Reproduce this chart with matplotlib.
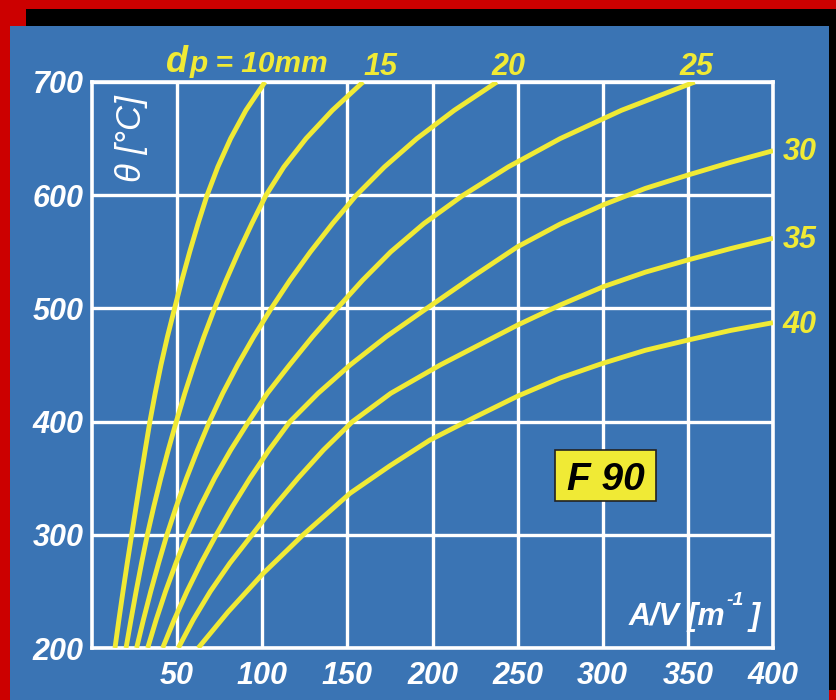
import matplotlib
matplotlib.use('Agg')
import matplotlib.pyplot as plt
from matplotlib.patches import Rectangle

plt.rcParams['font.family'] = ['Liberation Sans', 'DejaVu Sans']

W, H = 836, 700
BLUE = '#3a74b4'
YELLOW = '#f0ea35'
RED = '#cc0000'

# ---------------- data ----------------
x_ticks = [50, 100, 150, 200, 250, 300, 350, 400]
y_ticks = [200, 300, 400, 500, 600, 700]

curve_names = ['10', '15', '20', '25', '30', '35', '40']

c10_y = [200, 225, 250, 275, 300, 325, 350, 375, 400, 425, 450, 475, 500,
         525, 550, 575, 600, 625, 650, 675, 700]
c10_x = [13.5, 15.8, 18.2, 20.7, 23.3, 25.9, 28.55, 31.25, 34, 37.1, 40.5,
         44.3, 48.5, 52.8, 57.4, 62.3, 67.6, 73.9, 81.4, 90.4, 101.6]

c15_y = [200, 225, 250, 275, 300, 325, 350, 375, 400, 425, 450, 475, 500,
         525, 550, 575, 600, 625, 650, 675, 700]
c15_x = [20, 22.9, 25.9, 29.1, 32.5, 36.3, 40.4, 44.8, 49.5, 54.5, 59.9,
         65.7, 72, 78.8, 86.1, 93.9, 102.2, 112.7, 125.7, 141.2, 159.2]

c20_y = [200, 225, 250, 275, 300, 325, 350, 375, 400, 425, 450, 475, 500,
         525, 550, 575, 600, 625, 650, 675, 700]
c20_x = [26.2, 30.2, 34.5, 39.1, 44, 49.5, 55.5, 62, 69, 76.8, 85.5,
         95, 105.3, 116.3, 128.3, 141.3, 155.3, 171.8, 190.8, 212.8, 237.8]

c25_y = [200, 225, 250, 275, 300, 325, 350, 375, 400, 425, 450, 475, 500,
         525, 550, 575, 600, 625, 650, 675, 700]
c25_x = [32.7, 37.7, 43.2, 49.3, 56, 63.6, 72, 81.5, 92, 103, 116,
         129.5, 144, 159, 175.5, 195, 218, 244.5, 275, 311, 354]

c30_x = [41.5, 48.3, 55.8, 64, 73, 82.5, 92.8, 104, 116.3, 132.8, 151.6,
         172.8, 196.6, 225, 250, 275, 300, 325, 350, 375, 400]
c30_y = [200, 225, 250, 275, 300, 325, 350, 375, 400, 425, 450,
         475, 500, 529.5, 554.5, 574.5, 591.3, 606, 617.8, 629, 639.3]

c35_x = [50.7, 59.5, 69.5, 81, 94, 107, 121, 136, 153, 175.5, 204.5,
         250, 275, 300, 325, 350, 375, 400]
c35_y = [200, 225, 250, 275, 300, 325, 350, 375, 400, 425, 450,
         485.3, 503, 519, 532, 542.8, 552.8, 562]

c40_x = [62.4, 80, 100.6, 124, 151.5, 175, 198.5, 225, 250, 275, 300,
         325, 350, 375, 400]
c40_y = [200, 232, 266, 300, 336.6, 361, 383.7, 404, 422.5, 438.5, 451.5,
         463, 472, 480.5, 487.4]

curves_x = [c10_x, c15_x, c20_x, c25_x, c30_x, c35_x, c40_x]
curves_y = [c10_y, c15_y, c20_y, c25_y, c30_y, c35_y, c40_y]

# ---------------- figure ----------------
fig = plt.figure(figsize=(W / 100, H / 100), dpi=100)
fig.patch.set_facecolor(BLUE)


def prect(x0, y0, x1, y1, color):
    fig.add_artist(Rectangle((x0 / W, 1 - y1 / H), (x1 - x0) / W, (y1 - y0) / H,
                             transform=fig.transFigure, facecolor=color,
                             edgecolor='none', zorder=0))


def ftext(px, py, s, **kw):
    return fig.text(px / W, 1 - py / H, s, **kw)


# frame decorations
prect(0, 0, W, 9, RED)
prect(26, 9, W, 26, 'black')
prect(0, 0, 26, 26, RED)
prect(0, 0, 10, H, RED)
prect(829, 9, W, 690, 'black')
prect(829, 690, W, H, RED)

ax = fig.add_axes([92 / W, (H - 648) / H, 681 / W, 566 / H])
ax.set_facecolor(BLUE)
ax.set_xlim(0, 400)
ax.set_ylim(200, 700)
ax.set_xticks(x_ticks)
ax.set_yticks(y_ticks)
ax.grid(True, color='white', lw=2.4)
ax.set_axisbelow(True)
for sp in ax.spines.values():
    sp.set_color('white')
    sp.set_linewidth(2.6)
ax.tick_params(length=0, colors='white')
ax.tick_params(axis='y', pad=6)
ax.tick_params(axis='x', pad=9)
for lab in ax.get_xticklabels() + ax.get_yticklabels():
    lab.set_fontsize(22)
    lab.set_fontweight('bold')
    lab.set_fontstyle('italic')
    lab.set_color('white')

for xs, ys in zip(curves_x, curves_y):
    ax.plot(xs, ys, color=YELLOW, lw=3.5, solid_capstyle='butt',
            solid_joinstyle='round', zorder=3)

# curve labels
lab_kw = dict(color=YELLOW, fontweight='bold', fontstyle='italic', va='baseline')
ftext(166, 72, 'd', fontsize=26, ha='left', **lab_kw)
ftext(190, 72, 'p = 10mm', fontsize=21.5, ha='left', **lab_kw)
ftext(380, 75, curve_names[1], fontsize=22, ha='center', **lab_kw)
ftext(508, 75, curve_names[2], fontsize=22, ha='center', **lab_kw)
ftext(696, 75, curve_names[3], fontsize=22, ha='center', **lab_kw)
ftext(783, 160, curve_names[4], fontsize=22, ha='left', **lab_kw)
ftext(783, 248, curve_names[5], fontsize=22, ha='left', **lab_kw)
ftext(783, 333, curve_names[6], fontsize=22, ha='left', **lab_kw)

# axis labels
ftext(131, 139, 'θ [°C]', fontsize=25, fontstyle='italic', color='white',
      rotation=90, ha='center', va='center', rotation_mode='anchor')
ax_kw = dict(color='white', fontweight='bold', fontstyle='italic', va='baseline', ha='left')
ftext(629, 625, 'A/V [m', fontsize=22, **ax_kw)
ftext(726, 605, '-1', fontsize=14, **ax_kw)
ftext(750, 625, ']', fontsize=22, **ax_kw)

# F 90 box
fig.add_artist(Rectangle((555 / W, 1 - 501 / H), 101 / W, 51 / H,
                         transform=fig.transFigure, facecolor=YELLOW,
                         edgecolor='#222222', lw=1.2, zorder=5))
ftext(567, 490, 'F 90', fontsize=28, fontweight='bold', fontstyle='italic',
      color='black', ha='left', va='baseline', zorder=6)

fig.savefig('out.png', dpi=100, facecolor=fig.get_facecolor())
